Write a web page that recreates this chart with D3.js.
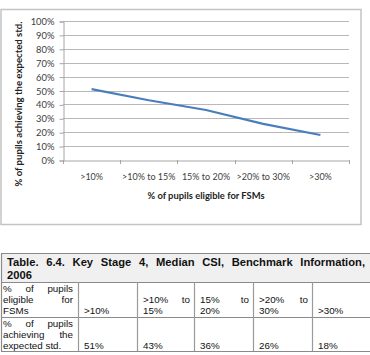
<!DOCTYPE html>
<html><head><meta charset="utf-8">
<script src="https://cdn.jsdelivr.net/npm/d3@7"></script>
<style>
html,body{margin:0;padding:0;background:#fff;}
svg{display:block;}
</style>
</head><body>
<svg id="c" width="370" height="355"></svg>
<script>
const categories = [">10%", ">10% to 15%", "15% to 20%", ">20% to 30%", ">30%"];
const values = [51, 43, 36, 26, 18];
const yTicks = [0, 10, 20, 30, 40, 50, 60, 70, 80, 90, 100];
const xTitle = "% of pupils eligible for FSMs";
const yTitle = "% of pupils achieving the expected std.";
const tableTitle = ["Table. 6.4.  Key Stage 4, Median CSI, Benchmark Information,", "2006"];
const rowHead1 = ["% of pupils", "eligible for", "FSMs"];
const rowHead2 = ["% of pupils", "achieving the", "expected std."];
const colHeads = [[">10%"], [">10% to", "15%"], ["15% to", "20%"], [">20% to", "30%"], [">30%"]];

const svg = d3.select("#c");
const chartFont = "Lato, 'Open Sans', sans-serif";
const tableFont = "'Liberation Sans', Arial, sans-serif";
const chartFs = "9px";

// chart frame
svg.append("rect").attr("x", 1).attr("y", 9.5).attr("width", 360).attr("height", 215)
  .attr("fill", "#fff").attr("stroke", "#c4c4c4").attr("stroke-width", 1.5);

const plot = {left: 63, right: 349, top: 21, bottom: 160};
const x = d3.scaleBand().domain(categories).range([plot.left, plot.right]);
const y = d3.scaleLinear().domain([0, 100]).range([plot.bottom, plot.top]);

// gridlines
svg.append("g").selectAll("line").data(yTicks.filter(d => d > 0)).join("line")
  .attr("x1", plot.left).attr("x2", plot.right)
  .attr("y1", d => Math.round(y(d)) + 0.5).attr("y2", d => Math.round(y(d)) + 0.5)
  .attr("stroke", "#b8b8b8").attr("stroke-width", 1);

// y axis
const yAxis = svg.append("g").attr("transform", `translate(${plot.left + 0.5},0.5)`)
  .call(d3.axisLeft(y).tickValues(yTicks).tickFormat(d => d + "%").tickSize(4).tickPadding(5));
yAxis.select(".domain").attr("stroke", "#a6a6a6");
yAxis.selectAll(".tick line").attr("stroke", "#a6a6a6");
yAxis.selectAll(".tick text").attr("font-family", chartFont).attr("font-size", "9.4px").attr("fill", "#404040");

// x axis
const xAxis = svg.append("g").attr("transform", `translate(0,${plot.bottom + 0.5})`)
  .call(d3.axisBottom(x).tickSize(0).tickPadding(13));
xAxis.select(".domain").attr("stroke", "#a6a6a6");
xAxis.selectAll(".tick text").attr("font-family", chartFont).attr("font-size", chartFs).attr("fill", "#404040");
// boundary ticks
const bounds = categories.map(c => x(c)).concat([x.range()[1]]);
svg.append("g").selectAll("line").data(bounds).join("line")
  .attr("x1", d => Math.round(d) + 0.5).attr("x2", d => Math.round(d) + 0.5)
  .attr("y1", plot.bottom).attr("y2", plot.bottom + 4)
  .attr("stroke", "#a6a6a6");

// line
const line = d3.line().x((d, i) => x(categories[i]) + x.bandwidth() / 2).y(d => y(d));
svg.append("path").datum(values).attr("d", line)
  .attr("fill", "none").attr("stroke", "#4a7ebb").attr("stroke-width", 2.2);

// axis titles
svg.append("text").attr("x", (plot.left + plot.right) / 2).attr("y", 199)
  .attr("text-anchor", "middle").attr("font-family", chartFont).attr("font-weight", "bold")
  .attr("font-size", "9.4px").attr("fill", "#222").text(xTitle);
svg.append("text").attr("transform", "translate(22,104) rotate(-90)")
  .attr("text-anchor", "middle").attr("font-family", chartFont).attr("font-weight", "bold")
  .attr("font-size", "9.6px").attr("fill", "#222").text(yTitle);

// ---------- table ----------
const colX = [1, 78, 137, 194, 253, 312, 372];
const rowY = [253, 282, 317, 351];
const tg = svg.append("g");
tg.append("rect").attr("x", colX[0]).attr("y", rowY[0]).attr("width", 372).attr("height", rowY[1] - rowY[0])
  .attr("fill", "#f0f0f0");
tg.selectAll("line.h").data(rowY).join("line").attr("class", "h")
  .attr("x1", colX[0]).attr("x2", 372).attr("y1", d => d + 0.5).attr("y2", d => d + 0.5)
  .attr("stroke", "#8a8a8a").attr("stroke-width", 1.2);
tg.append("line").attr("x1", colX[0] + 0.5).attr("x2", colX[0] + 0.5).attr("y1", rowY[0]).attr("y2", rowY[3])
  .attr("stroke", "#8a8a8a").attr("stroke-width", 1.2);
tg.selectAll("line.v").data(colX.slice(1, 6)).join("line").attr("class", "v")
  .attr("x1", d => d + 0.5).attr("x2", d => d + 0.5).attr("y1", rowY[1]).attr("y2", rowY[3])
  .attr("stroke", "#9a9a9a").attr("stroke-width", 1.2);

function justified(g, str, x0, x1, yb, attrs) {
  const words = str.split(/\s+/);
  const nodes = words.map(w => {
    const t = g.append("text").attr("y", yb).text(w);
    for (const k in attrs) t.attr(k, attrs[k]);
    return t;
  });
  const widths = nodes.map(n => n.node().getComputedTextLength());
  const total = d3.sum(widths);
  const gap = words.length > 1 ? (x1 - x0 - total) / (words.length - 1) : 0;
  let cx = x0;
  nodes.forEach((n, i) => { n.attr("x", cx); cx += widths[i] + gap; });
}
function plain(g, str, x0, yb, attrs) {
  const t = g.append("text").attr("x", x0).attr("y", yb).text(str);
  for (const k in attrs) t.attr(k, attrs[k]);
}
const tAttr = {"font-family": tableFont, "font-size": "9.8px", "fill": "#111"};
const hAttr = {"font-family": tableFont, "font-size": "11.2px", "font-weight": "bold", "fill": "#111"};

justified(tg, tableTitle[0], 7, 365, 265.5, hAttr);
plain(tg, tableTitle[1], 7, 278.5, hAttr);

const lineOff = [10, 21, 32];
justified(tg, rowHead1[0], 3, 73, rowY[1] + lineOff[0], tAttr);
justified(tg, rowHead1[1], 3, 73, rowY[1] + lineOff[1], tAttr);
plain(tg, rowHead1[2], 3, rowY[1] + lineOff[2], tAttr);
justified(tg, rowHead2[0], 3, 73, rowY[2] + lineOff[0], tAttr);
justified(tg, rowHead2[1], 3, 73, rowY[2] + lineOff[1], tAttr);
plain(tg, rowHead2[2], 3, rowY[2] + lineOff[2], tAttr);

colHeads.forEach((lines, i) => {
  const x0 = colX[i + 1] + 6, x1 = colX[i + 2] - 4;
  const start = 3 - lines.length;
  lines.forEach((l, j) => {
    const yb = rowY[1] + lineOff[start + j];
    if (j < lines.length - 1) justified(tg, l, x0, x1, yb, tAttr);
    else plain(tg, l, x0, yb, tAttr);
  });
  plain(tg, values[i] + "%", x0, rowY[2] + lineOff[2], tAttr);
});
</script>
</body></html>
